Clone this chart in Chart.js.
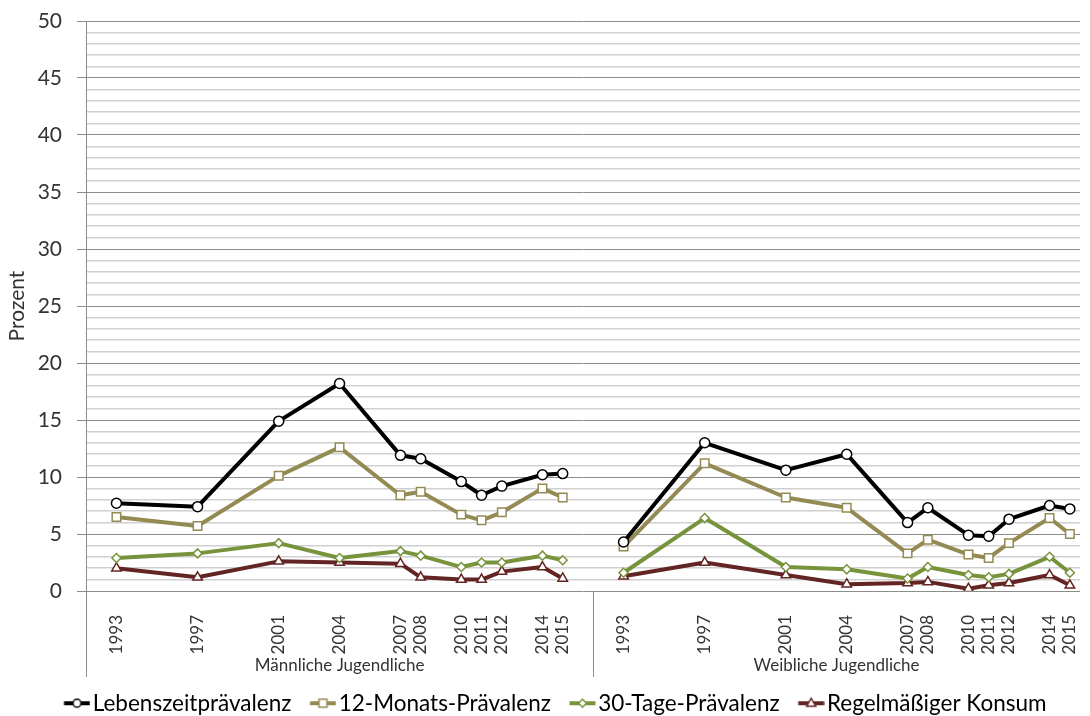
<!DOCTYPE html>
<html lang="de">
<head>
<meta charset="utf-8">
<title>Prävalenz Jugendliche</title>
<script src="https://cdn.jsdelivr.net/npm/chart.js@4.4.0/dist/chart.umd.min.js"></script>
<style>
  html, body { margin: 0; padding: 0; background: #fff; }
  #wrap { width: 1090px; height: 716px; }
</style>
</head>
<body>
<div id="wrap"><canvas id="myChart" width="1090" height="716"></canvas></div>
<script>
// survey years, same for both groups
const years = [1993, 1997, 2001, 2004, 2007, 2008, 2010, 2011, 2012, 2014, 2015];
const groups = ['Männliche Jugendliche', 'Weibliche Jugendliche'];
const seriesNames = ['Lebenszeitprävalenz', '12-Monats-Prävalenz', '30-Tage-Prävalenz', 'Regelmäßiger Konsum'];
const yTickLabels = [0, 5, 10, 15, 20, 25, 30, 35, 40, 45, 50];

// values in Prozent, male then female
const lebenszeitM = [7.7, 7.4, 14.9, 18.2, 11.9, 11.6, 9.6, 8.4, 9.2, 10.2, 10.3];
const lebenszeitW = [4.3, 13.0, 10.6, 12.0, 6.0, 7.3, 4.9, 4.8, 6.3, 7.5, 7.2];
const monateM = [6.5, 5.7, 10.1, 12.6, 8.4, 8.7, 6.7, 6.2, 6.9, 9.0, 8.2];
const monateW = [3.9, 11.2, 8.2, 7.3, 3.3, 4.5, 3.2, 2.9, 4.2, 6.4, 5.0];
const tageM = [2.9, 3.3, 4.2, 2.9, 3.5, 3.1, 2.1, 2.5, 2.5, 3.1, 2.7];
const tageW = [1.6, 6.4, 2.1, 1.9, 1.1, 2.1, 1.4, 1.2, 1.5, 3.0, 1.6];
const regelM = [2.0, 1.2, 2.6, 2.5, 2.4, 1.2, 1.0, 1.0, 1.7, 2.1, 1.1];
const regelW = [1.3, 2.5, 1.4, 0.6, 0.7, 0.8, 0.2, 0.5, 0.7, 1.4, 0.5];

// each group is a run of one-year slots starting at 1992
const firstYear = 1992;
const groupSlots = 25;
const slotOf = (g, year) => g * groupSlots + (year - firstYear) + 0.5;

const tickPos = [];
const tickText = {};
groups.forEach((g, gi) => {
    years.forEach(y => {
        const p = slotOf(gi, y);
        tickPos.push(p);
        tickText[p] = String(y);
    });
});

const toPoints = (male, female) => [
    ...male.map((v, i) => ({x: slotOf(0, years[i]), y: v})),
    {x: groupSlots, y: null},
    ...female.map((v, i) => ({x: slotOf(1, years[i]), y: v}))
];

const styles = [
    {color: '#000000', point: 'circle', radius: 5},
    {color: '#948A54', point: 'rect', radius: 6},
    {color: '#77933C', point: 'rectRot', radius: 4.5},
    {color: '#632523', point: 'triangle', radius: 5.5}
];
const values = [[lebenszeitM, lebenszeitW], [monateM, monateW], [tageM, tageW], [regelM, regelW]];

// small line + marker picture for the legend
function legendIcon(st) {
    const c = document.createElement('canvas');
    c.width = 42; c.height = 16;
    const g = c.getContext('2d');
    g.strokeStyle = st.color;
    g.lineWidth = 4;
    g.beginPath(); g.moveTo(15.5, 8); g.lineTo(41.5, 8); g.stroke();
    g.fillStyle = '#ffffff';
    g.lineWidth = 1.5;
    const cx = 28.5, cy = 8;
    g.beginPath();
    if (st.point === 'circle') {
        g.arc(cx, cy, 4, 0, Math.PI * 2);
    } else if (st.point === 'rect') {
        g.rect(cx - 4, cy - 4, 8, 8);
    } else if (st.point === 'rectRot') {
        g.moveTo(cx, cy - 4); g.lineTo(cx + 4, cy); g.lineTo(cx, cy + 4); g.lineTo(cx - 4, cy); g.closePath();
    } else {
        g.moveTo(cx, cy - 5); g.lineTo(cx + 4.5, cy + 3); g.lineTo(cx - 4.5, cy + 3); g.closePath();
    }
    g.fill(); g.stroke();
    return c;
}

const groupLabels = {
    id: 'groupLabels',
    afterLayout(chart) {
        // the original legend sits a little right of centre
        chart.legend.left += 12;
        chart.legend.right += 12;
    },
    afterDraw(chart) {
        const {ctx, chartArea} = chart;
        const xs = chart.scales.x;
        ctx.save();
        ctx.strokeStyle = '#8c8c8c';
        ctx.lineWidth = 1;
        [0, groupSlots].forEach(v => {
            const px = Math.round(xs.getPixelForValue(v)) + 0.5;
            ctx.beginPath();
            ctx.moveTo(px, chartArea.bottom);
            ctx.lineTo(px, chartArea.bottom + 86);
            ctx.stroke();
        });
        ctx.fillStyle = '#333333';
        ctx.font = '17px Lato';
        ctx.textAlign = 'center';
        ctx.textBaseline = 'middle';
        groups.forEach((g, gi) => {
            const mid = gi === 0 ? groupSlots / 2 : (groupSlots + xs.max) / 2;
            ctx.fillText(g, xs.getPixelForValue(mid), chartArea.bottom + 75);
        });
        ctx.restore();
    }
};

Chart.defaults.font.family = 'Lato';
Chart.defaults.color = '#333333';

const ctx = document.getElementById('myChart');
const myChart = new Chart(ctx, {
    type: 'line',
    data: {
        datasets: seriesNames.map((name, i) => ({
            label: name,
            data: toPoints(values[i][0], values[i][1]),
            borderColor: styles[i].color,
            borderWidth: 4,
            borderJoinStyle: 'round',
            tension: 0,
            pointStyle: styles[i].point,
            pointRadius: styles[i].radius,
            pointBackgroundColor: '#ffffff',
            pointBorderColor: styles[i].color,
            pointBorderWidth: 1.5
        }))
    },
    options: {
        responsive: false,
        animation: false,
        layout: {padding: {top: 21, right: 10, bottom: 0, left: 0}},
        plugins: {
            tooltip: {enabled: false},
            legend: {
                position: 'bottom',
                maxHeight: 36,
                labels: {
                    usePointStyle: true,
                    pointStyleWidth: 24,
                    padding: 12,
                    color: '#262626',
                    font: {size: 22.5},
                    generateLabels: chart => chart.data.datasets.map((ds, i) => ({
                        text: ds.label,
                        pointStyle: legendIcon(styles[i]),
                        fillStyle: '#ffffff',
                        strokeStyle: styles[i].color,
                        lineWidth: 0,
                        hidden: false,
                        datasetIndex: i
                    }))
                }
            }
        },
        scales: {
            x: {
                type: 'linear',
                min: 0,
                max: 49,
                grid: {display: false, drawTicks: false},
                border: {display: false},
                afterBuildTicks: scale => { scale.ticks = tickPos.map(v => ({value: v})); },
                afterFit: scale => {
                    scale.height = 89;
                    scale.paddingLeft = 0;
                    scale.paddingRight = 0;
                },
                ticks: {
                    autoSkip: false,
                    minRotation: 90,
                    maxRotation: 90,
                    padding: 24,
                    font: {size: 17},
                    callback: v => tickText[v] || ''
                }
            },
            y: {
                min: 0,
                max: 50,
                afterFit: scale => {
                    scale.width = 86;
                    scale.paddingTop = 0;
                    scale.paddingBottom = 0;
                },
                title: {display: true, text: 'Prozent', font: {size: 21}, padding: {top: 5, bottom: 0}},
                border: {color: '#8c8c8c', width: 1},
                grid: {
                    color: c => c.tick.value % 5 === 0 ? '#8c8c8c' : '#d0d0d0',
                    lineWidth: c => c.tick.value % 5 === 0 ? 1 : 1.5,
                    tickColor: c => c.tick.value % 5 === 0 ? '#8c8c8c' : 'rgba(0,0,0,0)',
                    tickLength: 9
                },
                ticks: {
                    stepSize: 1,
                    maxTicksLimit: 60,
                    autoSkip: false,
                    padding: 15,
                    font: {size: 21},
                    callback: v => yTickLabels.includes(v) ? String(v) : ''
                }
            }
        }
    },
    plugins: [groupLabels]
});
</script>
</body>
</html>
